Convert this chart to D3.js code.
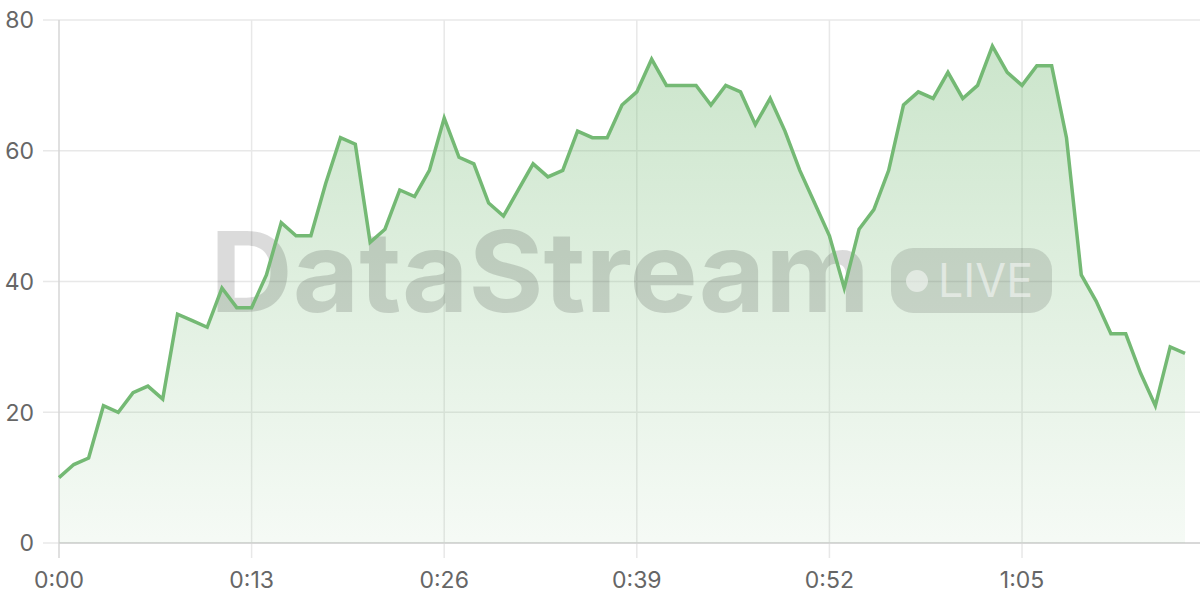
<!DOCTYPE html>
<html>
<head>
<meta charset="utf-8">
<script src="https://cdn.jsdelivr.net/npm/d3@7"></script>
<style>
  html, body { margin: 0; padding: 0; background: #fff; }
  svg { display: block; font-family: Inter, "Noto Sans", sans-serif; }
</style>
</head>
<body>
<svg id="chart" width="1200" height="600"></svg>
<script>
const seconds = d3.range(0, 77);
const values = [10,12,13,21,20,23,24,22,35,34,33,39,36,36,41,49,47,47,55,62,
                61,46,48,54,53,57,65,59,58,52,50,54,58,56,57,63,62,62,67,69,
                74,70,70,70,67,70,69,64,68,63,57,52,47,39,48,51,57,67,69,68,
                72,68,70,76,72,70,73,73,62,41,37,32,32,26,21,30,29];
const xTicks = [0, 13, 26, 39, 52, 65];
const yTicks = [0, 20, 40, 60, 80];
const watermarkText = "DataStream";
const badgeText = "LIVE";

const W = 1200, H = 600;
const margin = {top: 20, right: 15, bottom: 57, left: 59};
const svg = d3.select("#chart");

const x = d3.scaleLinear().domain([0, 76]).range([margin.left, W - margin.right]);
const y = d3.scaleLinear().domain([0, 80]).range([H - margin.bottom, margin.top]);
const fmt = s => `${Math.floor(s / 60)}:${String(s % 60).padStart(2, "0")}`;

const defs = svg.append("defs");
const grad = defs.append("linearGradient").attr("id", "areaGrad")
  .attr("x1", 0).attr("y1", 0).attr("x2", 0).attr("y2", 1);
grad.append("stop").attr("offset", "0%").attr("stop-color", "#77bb77").attr("stop-opacity", 0.38);
grad.append("stop").attr("offset", "100%").attr("stop-color", "#77bb77").attr("stop-opacity", 0.07);

// horizontal grid
svg.append("g").selectAll("line").data(yTicks).join("line")
  .attr("x1", 43).attr("x2", W)
  .attr("y1", d => y(d)).attr("y2", d => y(d))
  .attr("stroke", "#e8e8e8").attr("stroke-width", 1.5);

// vertical grid
svg.append("g").selectAll("line").data(xTicks).join("line")
  .attr("x1", d => x(d)).attr("x2", d => x(d))
  .attr("y1", margin.top).attr("y2", H - margin.bottom + 15)
  .attr("stroke", d => d === 0 ? "#d6d6d6" : "#e8e8e8").attr("stroke-width", 1.5);

// bottom axis line
svg.append("line").attr("x1", margin.left).attr("x2", W)
  .attr("y1", y(0)).attr("y2", y(0)).attr("stroke", "#d0d0d0").attr("stroke-width", 1.5);

// area
const area = d3.area().x((d, i) => x(seconds[i])).y0(y(0)).y1(d => y(d));
svg.append("path").datum(values).attr("d", area).attr("fill", "url(#areaGrad)");

// watermark
const wm = svg.append("g").attr("pointer-events", "none");
wm.append("text").attr("x", 210).attr("y", 312)
  .attr("textLength", 660).attr("lengthAdjust", "spacingAndGlyphs")
  .attr("font-size", 112).attr("font-weight", 700)
  .attr("fill", "#000").attr("fill-opacity", 0.14).text(watermarkText);
wm.append("rect").attr("x", 891).attr("y", 248).attr("width", 161).attr("height", 65)
  .attr("rx", 22).attr("fill", "#000").attr("fill-opacity", 0.12);
wm.append("circle").attr("cx", 917).attr("cy", 281).attr("r", 11)
  .attr("fill", "#fff").attr("fill-opacity", 0.5);
wm.append("text").attr("x", 938).attr("y", 297)
  .attr("textLength", 95).attr("lengthAdjust", "spacingAndGlyphs")
  .attr("font-size", 46).attr("font-weight", 400)
  .attr("fill", "#fff").attr("fill-opacity", 0.5).text(badgeText);

// line
const line = d3.line().x((d, i) => x(seconds[i])).y(d => y(d));
svg.append("path").datum(values).attr("d", line)
  .attr("fill", "none").attr("stroke", "#74b974").attr("stroke-width", 3.5)
  .attr("stroke-linejoin", "miter");

// y labels
svg.append("g").selectAll("text").data(yTicks).join("text")
  .attr("x", 34).attr("y", d => y(d)).attr("dy", "0.36em")
  .attr("text-anchor", "end").attr("font-size", 23).attr("fill", "#666")
  .text(d => d);

// x labels
svg.append("g").selectAll("text").data(xTicks).join("text")
  .attr("x", d => x(d)).attr("y", 588)
  .attr("text-anchor", "middle").attr("font-size", 23).attr("fill", "#666")
  .text(d => fmt(d));
</script>
</body>
</html>
